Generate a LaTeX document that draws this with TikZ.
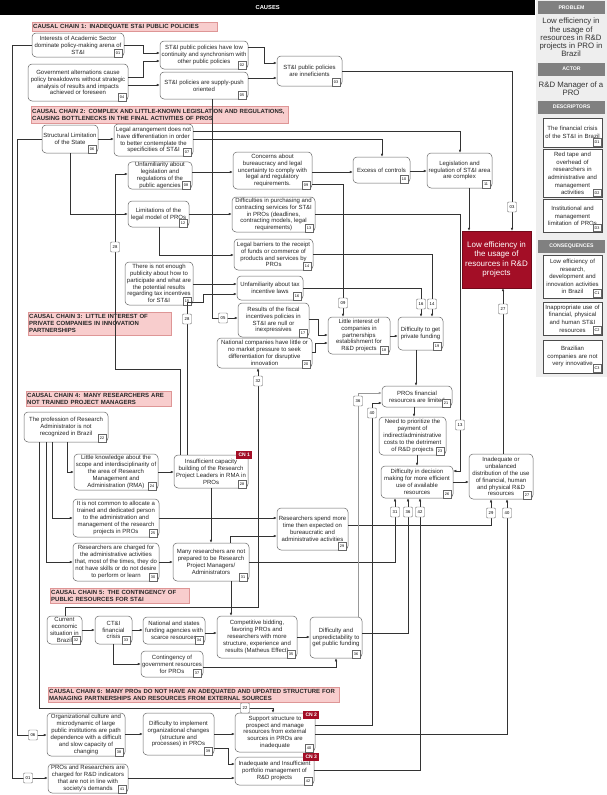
\documentclass[tikz,border=0pt]{standalone}
\usepackage{fontspec}
\setmainfont{Liberation Sans}
\usetikzlibrary{arrows.meta,calc,positioning}

\definecolor{cnred}{RGB}{163,14,38}
\definecolor{chainpink}{RGB}{248,205,205}
\definecolor{chainedge}{RGB}{222,150,150}
\definecolor{panelgray}{RGB}{238,238,238}
\definecolor{headgray}{RGB}{128,128,128}

\tikzset{
  cause/.style={draw=black!60, fill=white, rounded corners=4pt, align=center, inner sep=0.5pt,
    line width=0.5pt, text=black!85, font=\fontsize{6}{6.9}\selectfont},
  numtag/.style={draw=black!60, fill=white, anchor=south east, inner sep=0.4pt,
    minimum width=8pt, minimum height=7.5pt, font=\fontsize{3.8}{4}\selectfont},
  lbl/.style={draw=black!60, fill=white, rounded corners=1pt, inner sep=0.4pt,
    minimum width=9pt, minimum height=10pt, font=\fontsize{4.2}{4.5}\selectfont},
  arr/.style={draw=black!80, line width=0.45pt, -{Latex[length=3pt,width=2.6pt]}},
  chain/.style={draw=chainedge, fill=chainpink, anchor=north west, align=left, inner sep=1pt,
    text=black!85, font=\bfseries\fontsize{6}{7}\selectfont},
  cn/.style={fill=cnred, text=white, inner sep=0.4pt, minimum width=16pt, minimum height=8.5pt,
    font=\bfseries\fontsize{5}{5.5}\selectfont},
  problem/.style={fill=cnred, draw=cnred!70!black, text=white, align=center,
    minimum width=67pt, minimum height=57pt, font=\fontsize{8}{9.5}\selectfont},
  panelhead/.style={fill=headgray, text=white, minimum width=67pt, minimum height=13pt,
    inner sep=0pt, font=\bfseries\fontsize{5.2}{5.5}\selectfont},
  paneltxt/.style={align=center, text=black!80, font=\fontsize{7.8}{8.2}\selectfont},
  pbox/.style={draw=black!70, fill=white, align=center, minimum width=59pt, text width=58pt,
    inner sep=0.5pt, text=black!85, font=\fontsize{6}{7.6}\selectfont}
}

\begin{document}
\begin{tikzpicture}[x=1pt,y=-1pt]
\useasboundingbox (0,0) rectangle (607,795);

% right panel
\fill[panelgray] (536,0) rectangle (607,377);
\node[fill=black, text=white, anchor=north west, minimum width=535pt, minimum height=15pt, inner sep=0pt,
  font=\bfseries\fontsize{5.8}{6}\selectfont] (causes) at (0,0) {CAUSES};
\node[panelhead] (hprob) at (571.5,7.5) {PROBLEM};
\node[paneltxt] (prob) at (571,37.5) {Low efficiency in\\the usage of\\resources in R\&D\\projects in PRO in\\Brazil};
\node[panelhead] (hact) at (571.5,69) {ACTOR};
\node[paneltxt] (actor) at (571,89) {R\&D Manager of a\\PRO};
\node[panelhead] (hdes) at (571.5,107) {DESCRIPTORS};
\node[pbox, minimum height=29pt] (d1) at (572.5,132.5) {The financial crisis\\of the ST\&I in Brazil};
\node[pbox, minimum height=48pt] (d2) at (572.5,173.5) {Red tape and\\overhead of\\researchers in\\administrative and\\management\\activities};
\node[pbox, minimum height=33pt] (d3) at (572.5,216) {Institutional and\\management\\limitation of PROs};
\node[panelhead] (hcon) at (571.5,246.5) {CONSEQUENCES};
\node[pbox, minimum height=43pt] (c1) at (572.5,276.5) {Low efficiency of\\research,\\development and\\innovation activities\\in Brazil};
\node[pbox, minimum height=33pt] (c2) at (572.5,318.5) {Inappropriate use of\\financial, physical\\and human ST\&I\\resources};
\node[pbox, minimum height=33pt] (c3) at (572.5,356.5) {Brazilian\\companies are not\\very innovative};
\foreach \p/\q in {d1/D1,d2/D2,d3/D3,c1/C1,c2/C2,c3/C3}
  \node[numtag] (t\p) at ([xshift=-1pt,yshift=1pt]\p.south east) {\q};

% problem
\node[problem] (nP) at (496.5,259.5) {Low efficiency in\\the usage of\\resources in R\&D\\projects};

% chain 1
\node[chain, text width=183pt, minimum height=9pt] (cc1) at (32,22) {CAUSAL CHAIN 1: INADEQUATE ST\&I PUBLIC POLICIES};
\node[cause, minimum width=92pt, minimum height=24pt] (n01) at (78,45) {Interests of Academic Sector\\dominate policy-making arena of\\ST\&I};
\node[cause, minimum width=100pt, minimum height=37pt] (n04) at (78,82.5) {Government alternations cause\\policy breakdowns without strategic\\analysis of results and impacts\\achieved or foreseen};
\node[cause, minimum width=88pt, minimum height=28pt] (n02) at (204,55) {ST\&I public policies have low\\continuity and synchronism with\\other public policies};
\node[cause, minimum width=88pt, minimum height=27pt] (n05) at (204,85.5) {ST\&I policies are supply-push\\oriented};
\node[cause, minimum width=65pt, minimum height=30pt] (n03) at (309.5,71) {ST\&I public policies\\are inneficients};

% chain 2
\node[chain, text width=255pt, minimum height=17pt] (cc2) at (31,106) {CAUSAL CHAIN 2: COMPLEX AND LITTLE-KNOWN LEGISLATION AND REGULATIONS,\\CAUSING BOTTLENECKS IN THE FINAL ACTIVITIES OF PROS};
\node[cause, minimum width=56pt, minimum height=28pt] (n06) at (70,139) {Structural Limitation\\of the State};
\node[cause, minimum width=79pt, minimum height=32pt] (n07) at (153.5,140) {Legal arrangement does not\\have differentiation in order\\to better contemplate the\\specificities of ST\&I};
\node[cause, minimum width=64pt, minimum height=27pt] (n08) at (160,175.5) {Unfamiliarity about\\legislation and\\regulations of the\\public agencies};
\node[cause, minimum width=79pt, minimum height=37pt] (n09) at (272.5,170.5) {Concerns about\\bureaucracy and legal\\uncertainty to comply with\\legal and regulatory\\requirements.};
\node[cause, minimum width=57pt, minimum height=26pt] (n10) at (381.5,170) {Excess of controls};
\node[cause, minimum width=65pt, minimum height=35pt] (n11) at (459.5,170.5) {Legislation and\\regulation of ST\&I area\\are complex};
\node[cause, minimum width=61pt, minimum height=26pt] (n12) at (158.5,214) {Limitations of the\\legal model of PROs};
\node[cause, minimum width=83pt, minimum height=35pt] (n13) at (273.5,214.5) {Difficulties in purchasing and\\contracting services for ST\&I\\in PROs (deadlines,\\contracting models, legal\\requirements)};
\node[cause, minimum width=79pt, minimum height=31pt] (n14) at (273.5,254.5) {Legal barriers to the receipt\\of funds or commerce of\\products and services by\\PROs};
\node[cause, minimum width=68pt, minimum height=43pt] (n15) at (159,283.5) {There is not enough\\publicity about how to\\participate and what are\\the potential results\\regarding tax incentives\\for ST\&I};
\node[cause, minimum width=66pt, minimum height=24pt] (n16) at (270,288) {Unfamiliarity about tax\\incentive laws};

% chain 3
\node[chain, text width=141pt, minimum height=23pt] (cc3) at (28,312) {CAUSAL CHAIN 3: LITTLE INTEREST OF\\PRIVATE COMPANIES IN INNOVATION\\PARTNERSHIPS};
\node[cause, minimum width=71pt, minimum height=34pt] (n17) at (273.5,320) {Results of the fiscal\\incentives policies in\\ST\&I are null or\\inexpressives};
\node[cause, minimum width=95pt, minimum height=30pt] (n20) at (264.5,353) {National companies have little or\\no market pressure to seek\\differentiation for disruptive\\innovation};
\node[cause, minimum width=62pt, minimum height=37pt] (n18) at (359,335.5) {Little interest of\\companies in\\partnerships\\establishment for\\R\&D projects};
\node[cause, minimum width=45pt, minimum height=33pt] (n19) at (420.5,333.5) {Difficulty to get\\private funding};
\node[cause, minimum width=70pt, minimum height=21pt] (n21) at (417,396.5) {PROs financial\\resources are limited};
\node[cause, minimum width=67pt, minimum height=38pt] (n23) at (412.5,436) {Need to prioritize the\\payment of\\indirect/administrative\\costs to the detriment\\of R\&D projects};
\node[cause, minimum width=72pt, minimum height=32pt] (n26) at (417,482) {Difficulty in decision\\making for more efficient\\use of available\\resources};
\node[cause, minimum width=64pt, minimum height=45pt] (n27) at (501,476.5) {Inadequate or\\unbalanced\\distribution of the use\\of financial, human\\and physical R\&D\\resources};

% chain 4
\node[chain, text width=143pt, minimum height=15pt] (cc4) at (26,391) {CAUSAL CHAIN 4: MANY RESEARCHERS ARE\\NOT TRAINED PROJECT MANAGERS};
\node[cause, minimum width=84pt, minimum height=30pt] (n22) at (66,427) {The profession of Research\\Administrator is not\\recognized in Brazil};
\node[cause, minimum width=84pt, minimum height=36pt] (n24) at (116,472) {Little knowledge about the\\scope and interdisciplinarity of\\the area of Research\\Management and\\Administration (RMA)};
\node[cause, minimum width=74pt, minimum height=33pt] (n28) at (211,471.5) {Insufficient capacity\\building of the Research\\Project Leaders in RMA in\\PROs};
\node[cause, minimum width=86pt, minimum height=38pt] (n25) at (116,518) {It is not common to allocate a\\trained and dedicated person\\to the administration and\\management of the research\\projects in PROs};
\node[cause, minimum width=71pt, minimum height=42pt] (n29) at (312.5,529) {Researchers spend more\\time then expected on\\bureaucratic and\\administrative activities};
\node[cause, minimum width=86pt, minimum height=38pt] (n30) at (116,562) {Researchers are charged for\\the administrative activities\\that, most of the times, they do\\not have skills or do not desire\\to perform or learn};
\node[cause, minimum width=76pt, minimum height=38pt] (n31) at (211,562) {Many researchers are not\\prepared to be Research\\Project Managers/\\Administrators};

% chain 5
\node[chain, text width=137pt, minimum height=15pt] (cc5) at (50,588) {CAUSAL CHAIN 5: THE CONTINGENCY OF\\PUBLIC RESOURCES FOR ST\&I};
\node[cause, minimum width=35pt, minimum height=28pt] (n32) at (64.5,630) {Current\\economic\\situation in\\Brazil};
\node[cause, minimum width=37pt, minimum height=28pt] (n33) at (113.5,630) {CT\&I\\financial\\crisis};
\node[cause, minimum width=62pt, minimum height=27pt] (n34) at (174,630.5) {National and states\\funding agencies with\\scarce resources};
\node[cause, minimum width=80pt, minimum height=42pt] (n35) at (257,637) {Competitive bidding,\\favoring PROs and\\researchers with more\\structure, experience and\\results (Matheus Effect)};
\node[cause, minimum width=52pt, minimum height=41pt] (n36) at (336,637.5) {Difficulty and\\unpredictability to\\get public funding};
\node[cause, minimum width=62pt, minimum height=26pt] (n37) at (172,664) {Contingency of\\government resources\\for PROs};

% chain 6
\node[chain, text width=289pt, minimum height=15pt] (cc6) at (48,687) {CAUSAL CHAIN 6: MANY PROs DO NOT HAVE AN ADEQUATED AND UPDATED STRUCTURE FOR\\MANAGING PARTNERSHIPS AND RESOURCES FROM EXTERNAL SOURCES};
\node[cause, minimum width=78pt, minimum height=43pt] (n38) at (86,734.5) {Organizational culture and\\microdynamic of large\\public institutions are path\\dependence with a difficult\\and slow capacity of\\changing};
\node[cause, minimum width=71pt, minimum height=42pt] (n39) at (178.5,734) {Difficulty to implement\\organizational changes\\(structure and\\processes) in PROs};
\node[cause, minimum width=80pt, minimum height=39pt] (n40) at (275,732.5) {Support structure to\\prospect and manage\\resources from external\\sources in PROs are\\inadequate};
\node[cause, minimum width=79pt, minimum height=28pt] (n42) at (274.5,771) {Inadequate and Insufficient\\portfolio management of\\R\&D projects};
\node[cause, minimum width=80pt, minimum height=29pt] (n41) at (88,778.5) {PROs and Researchers are\\charged for R\&D indicators\\that are not in line with\\society's demands};

% number tags
\foreach \n in {01,02,03,04,05,06,07,08,09,10,11,12,13,14,15,16,17,18,19,20,21,
                22,23,24,25,26,27,28,29,30,31,32,33,34,35,36,37,38,39,40,41,42}
  \node[numtag] (t\n) at ([xshift=-2pt]n\n.south east) {\n};

% critical nodes
\node[cn] (cn1) at ([xshift=-4pt]n28.north east) {CN 1};
\node[cn] (cn2) at ([shift={(-4pt,-2pt)}]n40.north east) {CN 2};
\node[cn] (cn3) at ([xshift=-3pt]n42.north east) {CN 3};

% links chain 1
\draw[arr] (n01.east) -- (143,45) -- (143,53) -- (n02.west |- 0,53);
\draw[arr] (n04.east |- 0,77) -- (143,77) -- (143,61) -- (n02.west |- 0,61);
\draw[arr] (n04.east |- 0,85) -- (n05.west |- 0,85);
\draw[arr] (n02.east |- 0,47) -- (264,47) -- (264,63) -- (n03.west |- 0,63);
\draw[arr] (n05.east |- 0,78) -- (n03.west |- 0,78);
\draw[arr] (n03.east) -- (512,71) -- (nP.north -| 512,0);

% links chain 2
\draw[arr] (n06.east) -- (n07.west |- n06.east);
\draw[arr] (n07.east |- 0,131) -- (460,131) -- (n11.north -| 460,0);
\draw[arr] (n07.east |- 0,139) -- (382,139) -- (n10.north -| 382,0);
\draw[arr] (n08.east |- 0,172) -- (n09.west |- 0,172);
\draw[arr] (n09.east |- 0,172) -- (n10.west |- 0,172);
\draw[arr] (n10.east |- 0,171) -- (n11.west |- 0,171);
\draw[arr] (n11.south -| 469,0) -- (nP.north -| 469,0);
\draw[arr] (n06.south) -- (70,214) -- (n12.west |- 0,214);
\draw[arr] (n12.east) -- (n13.west |- n12.east);
\draw[arr] (n12.south -| 159,0) -- (159,255) -- (n14.west |- 0,255);
\draw[arr] (n15.east |- 0,284) -- (n16.west |- 0,284);
\draw[arr] (n28.north -| 180,0) -- (180,369) -- (115,369) -- (115,174) -- (n08.west |- 0,174);
\draw[arr] (n28.north -| 187,0) -- (187,302) -- (203,302) -- (203,294) -- (n16.west |- 0,294);

% links chain 3
\draw[arr] (n05.south -| 212,0) -- (212,318) -- (n17.west |- 0,318);
\draw[arr] (n09.east |- 0,184) -- (343,184) -- (n18.north -| 343,0);
\draw[arr] (n13.east |- 0,214) -- (460,214) -- (460,471) -- (n26.east |- 0,471);
\draw[arr] (n14.east |- 0,254) -- (432,254) -- (n19.north -| 432,0);
\draw[arr] (n16.east |- 0,288) -- (421,288) -- (n19.north -| 421,0);
\draw[arr] (n17.east |- 0,319) -- (318,319) -- (318,335) -- (n18.west |- 0,335);
\draw[arr] (n20.east |- 0,352) -- (315,352) -- (315,343) -- (n18.west |- 0,343);
\draw[arr] (n32.north -| 65,0) -- (65,607) -- (258,607) -- (n20.south -| 258,0);
\draw[arr] (n18.east |- 0,336) -- (n19.west |- 0,336);
\draw[arr] (n19.south -| 416,0) -- (n21.north -| 416,0);
\draw[arr] (n21.south -| 414,0) -- (n23.north -| 414,0);
\draw[arr] (n23.south -| 417,0) -- (n26.north -| 417,0);
\draw[arr] (n26.east |- 0,482) -- (n27.west |- 0,482);
\draw[arr] (n27.north -| 503,0) -- (nP.south -| 503,0);

% links chain 4
\draw[arr] (n22.south -| 67,0) -- (67,472) -- (n24.west |- 0,472);
\draw[arr] (n22.south -| 52,0) -- (52,518) -- (n25.west |- 0,518);
\draw[arr] (n22.south -| 46,0) -- (46,562) -- (n30.west |- 0,562);
\draw[arr] (n22.south -| 39,0) -- (39,708) -- (273,708) -- (n40.north -| 273,0);
\draw[arr] (n24.east |- 0,472) -- (n28.west |- 0,472);
\draw[arr] (n28.south -| 211,0) -- (n31.north -| 211,0);
\draw[arr] (n30.east |- 0,562) -- (n31.west |- 0,562);
\draw[arr] (n25.east |- 0,518) -- (n29.west |- 0,518);
\draw[arr] (n31.north -| 230,0) -- (230,536) -- (n29.west |- 0,536);
\draw[arr] (n31.east |- 0,562) -- (395,562) -- (n26.south -| 395,0);
\draw[arr] (n29.east |- 0,525) -- (491,525) -- (n27.south -| 491,0);

% links chain 5
\draw[arr] (n31.south -| 231,0) -- (n35.north -| 231,0);
\draw[arr] (n32.east |- 0,630) -- (n33.west |- 0,630);
\draw[arr] (n33.east |- 0,630) -- (n34.west |- 0,630);
\draw[arr] (n34.east |- 0,633) -- (n35.west |- 0,633);
\draw[arr] (n35.east |- 0,637) -- (n36.west |- 0,637);
\draw[arr] (n33.south -| 113,0) -- (113,664) -- (n37.west |- 0,664);
\draw[arr] (n37.east |- 0,667) -- (336,667) -- (n36.south -| 336,0);
\draw[arr] (n36.east |- 0,633) -- (408,633) -- (n26.south -| 408,0);
\draw[arr, draw=black!40] (n36.north -| 358,0) -- (358,393) -- (n21.west |- 0,393);

% links chain 6
\draw[arr] (n38.east |- 0,734) -- (n39.west |- 0,734);
\draw[arr] (n39.east |- 0,734) -- (n40.west |- 0,734);
\draw[arr] (n39.east |- 0,748) -- (228,748) -- (228,764) -- (n42.west |- 0,764);
\draw[arr] (n41.east |- 0,778) -- (n42.west |- 0,778);
\draw[arr] (n42.east |- 0,770) -- (420,770) -- (n26.south -| 420,0);
\draw[arr] (n40.east |- 0,725) -- (372,725) -- (372,403) -- (n21.west |- 0,403);
\draw[arr] (n40.east |- 0,734) -- (507,734) -- (n27.south -| 507,0);
\draw[arr] (n06.west) -- (17,139) -- (17,735) -- (n38.west |- 0,735);
\draw[arr] (n01.west) -- (12,45) -- (12,778) -- (n41.west |- 0,778);

% link labels
\node[lbl] (e03) at (512,207) {03};
\node[lbl] (e28a) at (115,247) {28};
\node[lbl] (e28b) at (187,319) {28};
\node[lbl] (e05) at (223,318) {05};
\node[lbl] (e09) at (343,303) {09};
\node[lbl] (e16) at (421,304) {16};
\node[lbl] (e14) at (432,304) {14};
\node[lbl] (e32) at (258,381) {32};
\node[lbl] (e36a) at (358,401) {36};
\node[lbl] (e40a) at (372,413) {40};
\node[lbl] (e13) at (460,425) {13};
\node[lbl] (e27) at (503,309) {27};
\node[lbl] (e31) at (395,512) {31};
\node[lbl] (e36b) at (408,512) {36};
\node[lbl] (e42) at (420,512) {42};
\node[lbl] (e29) at (491,513) {29};
\node[lbl] (e40b) at (507,513) {40};
\node[lbl] (e22) at (245,708) {22};
\node[lbl] (e06) at (33,735) {06};
\node[lbl] (e01) at (28,778) {01};
\end{tikzpicture}
\end{document}
